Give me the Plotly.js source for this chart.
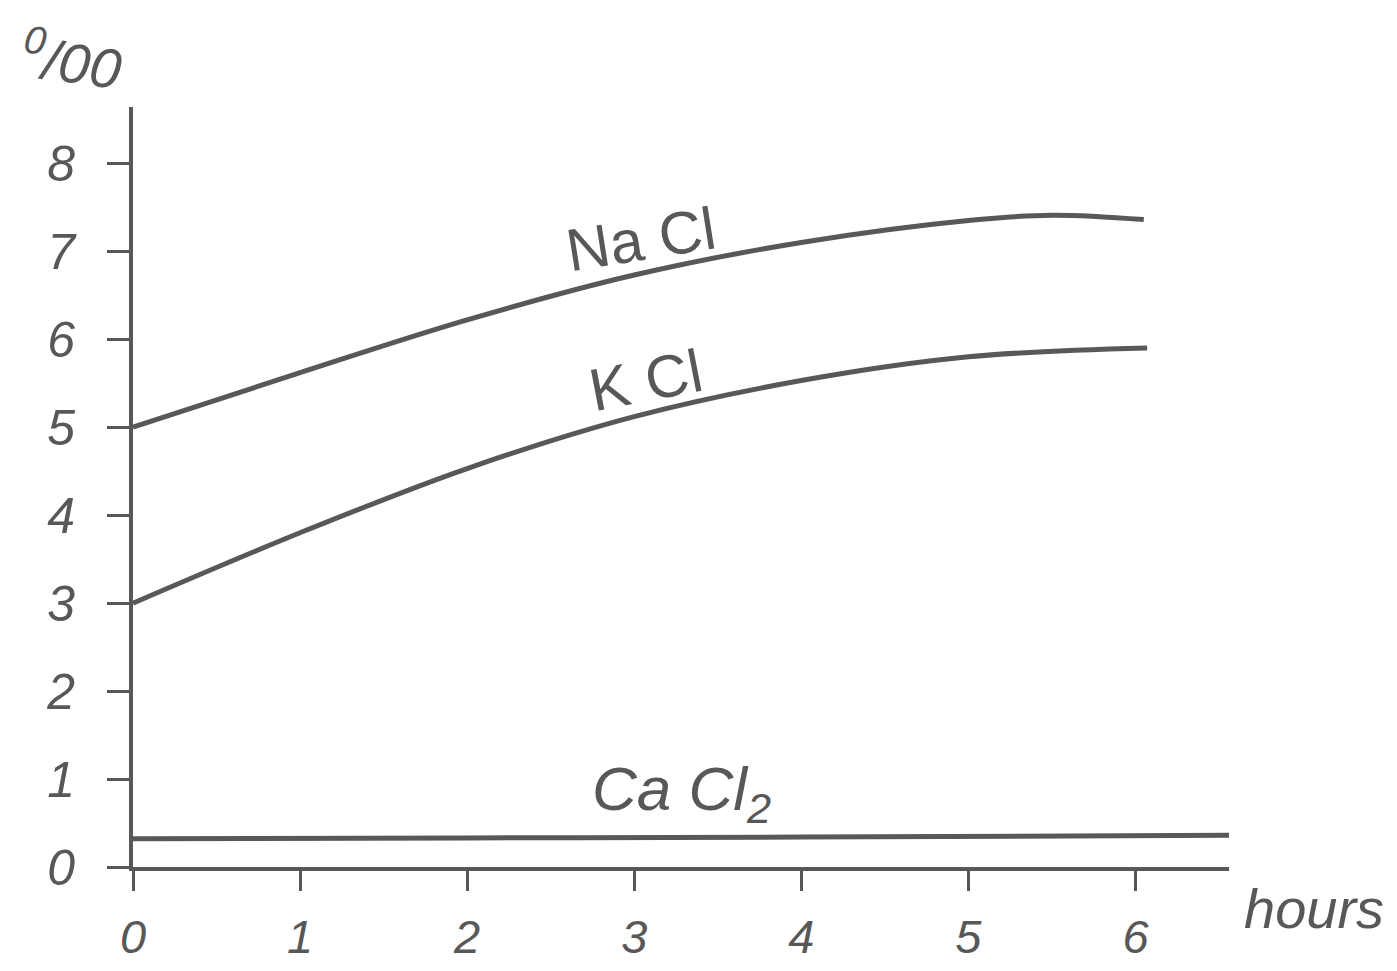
<!DOCTYPE html>
<html>
<head>
<meta charset="utf-8">
<script src="https://cdn.plot.ly/plotly-3.0.1.min.js"></script>
<style>
  html, body { margin: 0; padding: 0; background: #ffffff; }
  #chart { width: 1397px; height: 971px; }
</style>
</head>
<body>
<div id="chart"></div>
<script>
// Hours (x) and concentration in per mille (y)
const naclHours = [0, 1, 2, 3, 4, 5, 5.5, 6.05];
const naclValues = [5.0, 5.62, 6.22, 6.73, 7.1, 7.35, 7.41, 7.36];

const kclHours = [0, 1, 2, 3, 4, 5, 6.07];
const kclValues = [3.0, 3.8, 4.53, 5.12, 5.53, 5.8, 5.9];

const caclHours = [0, 2, 4, 6.56];
const caclValues = [0.32, 0.33, 0.34, 0.36];

const xTickValues = [0, 1, 2, 3, 4, 5, 6];
const yTickValues = [0, 1, 2, 3, 4, 5, 6, 7, 8];

const seriesLabels = ['Na Cl', 'K Cl', 'Ca Cl<sub>2</sub>'];
const xAxisLabel = 'hours';
const yAxisLabel = '<sup>0</sup>/00';

const ink = '#585858';
const fontFamily = '"Liberation Sans", Roboto, sans-serif';

const lineStyle = { color: ink, width: 5, shape: 'spline', smoothing: 1 };

const traces = [
  { x: naclHours, y: naclValues, mode: 'lines', line: lineStyle, name: 'NaCl', hoverinfo: 'x+y' },
  { x: kclHours, y: kclValues, mode: 'lines', line: lineStyle, name: 'KCl', hoverinfo: 'x+y' },
  { x: caclHours, y: caclValues, mode: 'lines', line: lineStyle, name: 'CaCl2', hoverinfo: 'x+y' }
];

const tickFont = { family: fontFamily, size: 50, color: ink, style: 'italic' };

const layout = {
  width: 1397,
  height: 971,
  paper_bgcolor: '#ffffff',
  plot_bgcolor: '#ffffff',
  showlegend: false,
  margin: { l: 133, r: 168, t: 107, b: 104 },
  xaxis: {
    range: [0, 6.56],
    tickvals: xTickValues,
    ticktext: xTickValues.map(String),
    showline: true,
    linecolor: ink,
    linewidth: 4,
    showgrid: false,
    zeroline: false,
    ticks: 'outside',
    ticklen: 20,
    tickwidth: 3,
    tickcolor: ink,
    tickfont: { family: fontFamily, size: 47, color: ink, style: 'italic' },
    ticklabelstandoff: 6
  },
  yaxis: {
    range: [0, 8.64],
    tickvals: yTickValues,
    ticktext: yTickValues.map(String),
    showline: true,
    linecolor: ink,
    linewidth: 4,
    showgrid: false,
    zeroline: false,
    ticks: 'outside',
    ticklen: 22,
    tickwidth: 3,
    tickcolor: ink,
    tickfont: tickFont,
    ticklabelstandoff: 22
  },
  annotations: [
    { x: 3.04, y: 7.13, xref: 'x', yref: 'y', text: seriesLabels[0], showarrow: false,
      textangle: -9, font: { family: fontFamily, size: 60, color: ink } },
    { x: 3.07, y: 5.53, xref: 'x', yref: 'y', text: seriesLabels[1], showarrow: false,
      textangle: -11, font: { family: fontFamily, size: 60, color: ink } },
    { x: 3.28, y: 0.84, xref: 'x', yref: 'y', text: seriesLabels[2], showarrow: false,
      font: { family: fontFamily, size: 62, color: ink, style: 'italic' } },
    { x: 1.078, y: -0.054, xref: 'paper', yref: 'paper', xanchor: 'center', yanchor: 'middle',
      text: xAxisLabel, showarrow: false,
      font: { family: fontFamily, size: 56, color: ink, style: 'italic' } },
    { x: -0.056, y: 1.062, xref: 'paper', yref: 'paper', xanchor: 'center', yanchor: 'middle',
      text: yAxisLabel, showarrow: false, textangle: 8,
      font: { family: fontFamily, size: 56, color: ink, style: 'italic' } }
  ]
};

Plotly.newPlot('chart', traces, layout, { displayModeBar: false, staticPlot: true });
</script>
</body>
</html>
